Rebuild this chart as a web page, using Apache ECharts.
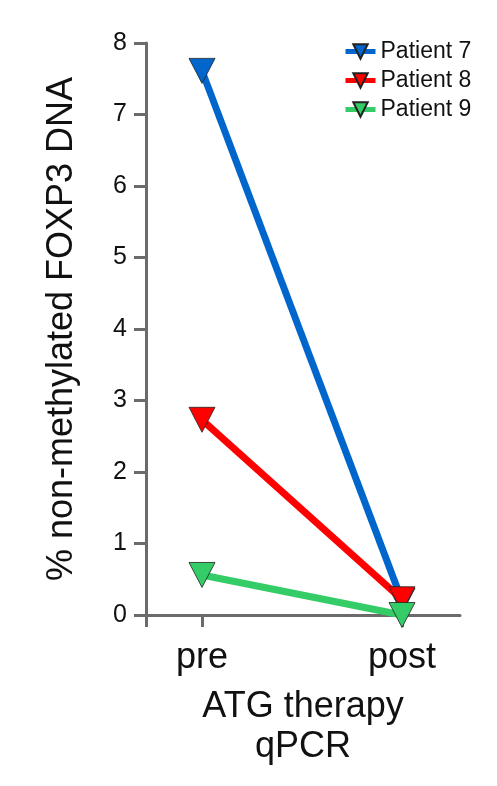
<!DOCTYPE html>
<html>
<head>
<meta charset="utf-8">
<script src="https://cdn.jsdelivr.net/npm/echarts@6/dist/echarts.min.js"></script>
<style>
  html, body { margin: 0; padding: 0; background: #fff; }
  #chart { width: 497px; height: 786px; }
</style>
</head>
<body>
<div id="chart"></div>
<script>
// Time points on the x axis, placed inside a 0..1.57 value range
const timeLabels = ['pre', 'post'];
const timePositions = [0.28, 1.28];

// % non-methylated FOXP3 DNA per patient
const patientNames = ['Patient 7', 'Patient 8', 'Patient 9'];
const patient7 = [7.61, 0.2];
const patient8 = [2.73, 0.22];
const patient9 = [0.56, 0.0];
const seriesColors = ['#0066cc', '#ff0000', '#33cc66'];

// y axis ticks
const yTicks = [0, 1, 2, 3, 4, 5, 6, 7, 8];

const FONT = 'Liberation Sans, Arial, Helvetica, sans-serif';
const AXIS_COLOR = '#6b6b6b';

const allValues = [patient7, patient8, patient9];

const chart = echarts.init(document.getElementById('chart'), null, { renderer: 'canvas' });

const series = patientNames.map((name, i) => ({
  name: name,
  type: 'line',
  data: timePositions.map((x, j) => [x, allValues[i][j]]),
  symbol: 'triangle',
  symbolRotate: 180,
  symbolSize: [26, 25],
  lineStyle: { color: seriesColors[i], width: 7 },
  itemStyle: { color: seriesColors[i], borderColor: '#222', borderWidth: 0.8 },
  emphasis: { disabled: true },
  z: 2 + i
}));

chart.setOption({
  animation: false,
  backgroundColor: '#ffffff',
  textStyle: { fontFamily: FONT },
  grid: { left: 146, right: 37, top: 43, bottom: 171, containLabel: false },
  legend: {
    orient: 'vertical',
    left: 338,
    top: 35,
    itemGap: 6,
    itemWidth: 30,
    itemHeight: 18,
    lineStyle: { width: 5 },
    textStyle: { fontSize: 23, color: '#111', fontFamily: FONT },
    data: patientNames
  },
  xAxis: {
    type: 'value',
    min: 0,
    max: 1.57,
    splitLine: { show: false },
    axisLine: { show: true, onZero: false, lineStyle: { color: AXIS_COLOR, width: 3 } },
    axisTick: {
      show: true,
      length: 12,
      lineStyle: { color: AXIS_COLOR, width: 3 },
      customValues: [0].concat(timePositions)
    },
    axisLabel: {
      customValues: timePositions,
      formatter: v => {
        const idx = timePositions.findIndex(p => Math.abs(p - v) < 1e-6);
        return idx >= 0 ? timeLabels[idx] : '';
      },
      fontSize: 36,
      color: '#111',
      margin: 25,
      fontFamily: FONT
    },
    name: 'ATG therapy\nqPCR',
    nameLocation: 'middle',
    nameGap: 72,
    nameTextStyle: { fontSize: 36, color: '#111', lineHeight: 40, fontFamily: FONT }
  },
  yAxis: {
    type: 'value',
    position: 'left',
    min: yTicks[0],
    max: yTicks[yTicks.length - 1],
    interval: 1,
    splitLine: { show: false },
    axisLine: { show: true, onZero: false, lineStyle: { color: AXIS_COLOR, width: 3 } },
    axisTick: { show: true, length: 12, lineStyle: { color: AXIS_COLOR, width: 3 } },
    axisLabel: { fontSize: 25, color: '#111', margin: 19, fontFamily: FONT },
    name: '% non-methylated FOXP3 DNA',
    nameLocation: 'middle',
    nameGap: 66,
    nameTextStyle: { fontSize: 36, color: '#111', fontFamily: FONT }
  },
  series: series
});
</script>
</body>
</html>
